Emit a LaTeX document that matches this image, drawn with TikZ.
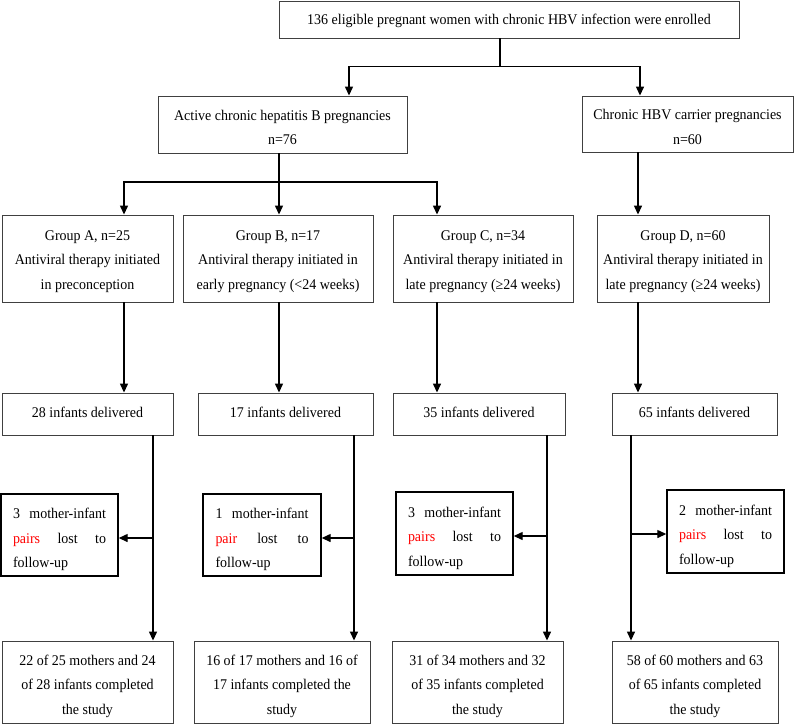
\documentclass[tikz,border=0pt]{standalone}
\usepackage{fontspec}
\setmainfont{Liberation Serif}[FakeStretch=0.945]
\usetikzlibrary{arrows.meta}
\newcommand{\jline}[1]{\leavevmode\hbox to 93pt{#1}}
\newcommand{\tst}[1]{\rule{0pt}{#1pt}}
\begin{document}
\begin{tikzpicture}[x=1pt,y=-1pt,
  box/.style={draw=black!75, line width=0.9pt, inner sep=0pt, align=center,
    font=\fontsize{14.8}{24.5}\selectfont},
  lostbox/.style={draw=black, line width=1.4pt, inner sep=0pt, align=left,
    text width=93pt, font=\fontsize{14.8}{24.5}\selectfont},
  conn/.style={line width=1.3pt, black},
  arr/.style={conn, -{Triangle[width=8pt,length=9pt]}}]
\useasboundingbox (0,0) rectangle (794,724);

% boxes
\node[box, minimum width=460pt, minimum height=37pt] (top) at (509,19.5)
  {\tst{13}136 eligible pregnant women with chronic HBV infection were enrolled};
\node[box, minimum width=249pt, minimum height=57pt] (act) at (282.5,124.5)
  {\tst{16.5}Active chronic hepatitis B pregnancies\\n=76};
\node[box, minimum width=211pt, minimum height=56pt] (car) at (687.5,124)
  {\tst{16.5}Chronic HBV carrier pregnancies\\n=60};

\node[box, minimum width=171pt, minimum height=87pt] (gA) at (87.5,258.5)
  {\tst{15.5}Group A, n=25\\Antiviral therapy initiated\\in preconception};
\node[box, minimum width=190pt, minimum height=87pt] (gB) at (278,258.5)
  {\tst{15.5}Group B, n=17\\Antiviral therapy initiated in\\early pregnancy (<24 weeks)};
\node[box, minimum width=180pt, minimum height=87pt] (gC) at (483,258.5)
  {\tst{15.5}Group C, n=34\\Antiviral therapy initiated in\\late pregnancy (≥24 weeks)};
\node[box, minimum width=172pt, minimum height=87pt] (gD) at (683,258.5)
  {\tst{15.5}Group D, n=60\\Antiviral therapy initiated in\\late pregnancy (≥24 weeks)};

\node[box, minimum width=171pt, minimum height=42pt] (iA) at (87.5,414) {\rule[-3.4pt]{0pt}{3.4pt}28 infants delivered};
\node[box, minimum width=175pt, minimum height=42pt] (iB) at (285.5,414) {\rule[-3.4pt]{0pt}{3.4pt}17 infants delivered};
\node[box, minimum width=172pt, minimum height=42pt] (iC) at (479,414) {\rule[-3.4pt]{0pt}{3.4pt}35 infants delivered};
\node[box, minimum width=165pt, minimum height=42pt] (iD) at (694.5,414) {\rule[-3.4pt]{0pt}{3.4pt}65 infants delivered};

\node[lostbox, minimum width=117pt, minimum height=82pt] (lA) at (59.5,535)
  {\jline{\tst{19.5}3\hfill mother-infant}\\\jline{\textcolor{red}{pairs}\hfill lost\hfill to}\\follow-up};
\node[lostbox, minimum width=118pt, minimum height=82pt] (lB) at (262,535)
  {\jline{\tst{19.5}1\hfill mother-infant}\\\jline{\textcolor{red}{pair}\hfill lost\hfill to}\\follow-up};
\node[lostbox, minimum width=117pt, minimum height=83pt] (lC) at (454.5,533.5)
  {\jline{\tst{19.5}3\hfill mother-infant}\\\jline{\textcolor{red}{pairs}\hfill lost\hfill to}\\follow-up};
\node[lostbox, minimum width=117pt, minimum height=83pt] (lD) at (725.5,531.5)
  {\jline{\tst{19.5}2\hfill mother-infant}\\\jline{\textcolor{red}{pairs}\hfill lost\hfill to}\\follow-up};

\node[box, minimum width=171pt, minimum height=82pt] (fA) at (87.5,682)
  {\tst{19}22 of 25 mothers and 24\\of 28 infants completed\\the study};
\node[box, minimum width=176pt, minimum height=82pt] (fB) at (282,682)
  {\tst{19}16 of 17 mothers and 16 of\\17 infants completed the\\study};
\node[box, minimum width=171pt, minimum height=82pt] (fC) at (477.5,682)
  {\tst{19}31 of 34 mothers and 32\\of 35 infants completed\\the study};
\node[box, minimum width=166pt, minimum height=82pt] (fD) at (695,682)
  {\tst{19}58 of 60 mothers and 63\\of 65 infants completed\\the study};

% helper coordinates
\coordinate (xT) at (500,0);
\coordinate (jT) at (500,66.7);
\coordinate (xL) at (349,0);
\coordinate (xR) at (640,0);
\coordinate (x1) at (124,0);
\coordinate (x2) at (279,0);
\coordinate (x3) at (437,0);
\coordinate (x4) at (638,0);
\coordinate (jG) at (279,182);
\coordinate (y1) at (153,0);
\coordinate (y2) at (354,0);
\coordinate (y3) at (547,0);
\coordinate (y4) at (631,0);
\coordinate (kA) at (153,538);
\coordinate (kB) at (354,538);
\coordinate (kC) at (547,536);
\coordinate (kD) at (631,534);

% connectors
\draw[conn] (top.south -| xT) -- (jT);
\draw[arr] (jT) -| (act.north -| xL);
\draw[arr] (jT) -| (car.north -| xR);

\draw[conn] (act.south -| x2) -- (jG);
\draw[arr] (jG) -| (gA.north -| x1);
\draw[arr] (jG) -- (gB.north -| x2);
\draw[arr] (jG) -| (gC.north -| x3);
\draw[arr] (car.south -| x4) -- (gD.north -| x4);

\draw[arr] (gA.south -| x1) -- (iA.north -| x1);
\draw[arr] (gB.south -| x2) -- (iB.north -| x2);
\draw[arr] (gC.south -| x3) -- (iC.north -| x3);
\draw[arr] (gD.south -| x4) -- (iD.north -| x4);

\draw[arr] (iA.south -| y1) -- (fA.north -| y1);
\draw[arr] (iB.south -| y2) -- (fB.north -| y2);
\draw[arr] (iC.south -| y3) -- (fC.north -| y3);
\draw[arr] (iD.south -| y4) -- (fD.north -| y4);

\draw[arr] (kA) -- (lA.east |- kA);
\draw[arr] (kB) -- (lB.east |- kB);
\draw[arr] (kC) -- (lC.east |- kC);
\draw[arr] (kD) -- (lD.west |- kD);
\end{tikzpicture}
\end{document}
